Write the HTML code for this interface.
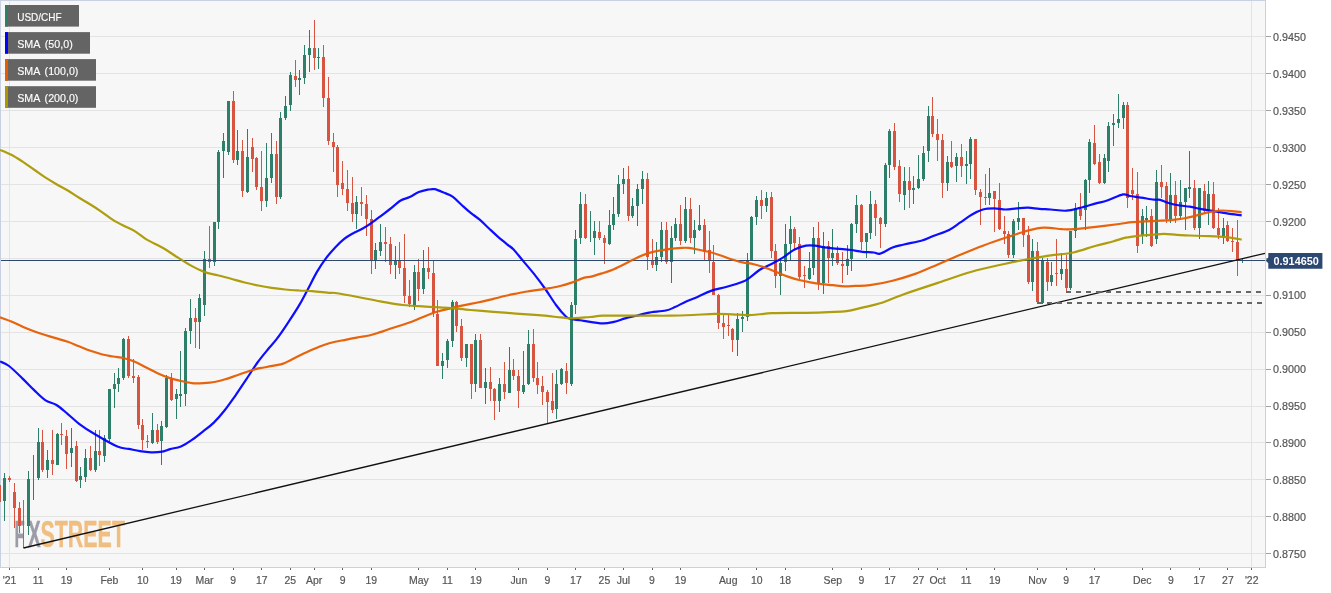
<!DOCTYPE html>
<html><head><meta charset="utf-8"><style>
html,body{margin:0;padding:0;background:#fff;width:1331px;height:593px;overflow:hidden}
svg{display:block;will-change:transform}
text{font-family:"Liberation Sans",sans-serif}
</style></head><body>
<svg width="1331" height="593" viewBox="0 0 1331 593">
<rect x="0" y="0" width="1331" height="593" fill="#ffffff"/>
<rect x="0.5" y="0.5" width="1265" height="567" fill="#f7f7f7" stroke="#c8d0e4" stroke-width="1"/>

<path d="M1 36.5H1265 M1 73.5H1265 M1 110.5H1265 M1 147.5H1265 M1 184.5H1265 M1 221.5H1265 M1 258.5H1265 M1 295.5H1265 M1 332.5H1265 M1 369.5H1265 M1 406.5H1265 M1 442.5H1265 M1 479.5H1265 M1 516.5H1265 M1 553.5H1265 M9.5 1V567 M1251.5 1V567" stroke="#e3e3e3" stroke-width="1" fill="none"/>
<g font-weight="bold" font-size="36.5" stroke-width="0.45"><text x="14.6" y="547.3" fill="#9b9ca8" stroke="#9b9ca8" textLength="10.2" lengthAdjust="spacingAndGlyphs">F</text><text x="28" y="547.3" fill="#9b9ca8" stroke="#9b9ca8" textLength="12.6" lengthAdjust="spacingAndGlyphs">X</text><text x="40.5" y="547.3" fill="#f0be80" stroke="#f0be80" textLength="84.5" lengthAdjust="spacingAndGlyphs">STREET</text></g>
<path d="M4.5 473V521 M28.5 471V535 M33.5 455V500 M38.5 428V480 M47.5 450V478 M57.5 433V465 M71.5 428V467 M80.5 467V488 M85.5 449V482 M95.5 430V472 M104.5 435V462 M109.5 389V442 M114.5 373V408 M118.5 368V392 M123.5 338V380 M152.5 413V444 M161.5 421V465 M166.5 375V428 M176.5 389V419 M180.5 351V407 M185.5 328V406 M190.5 299V344 M199.5 294V349 M204.5 251V316 M214.5 222V266 M218.5 150V229 M223.5 133V178 M228.5 101V155 M237.5 130V165 M247.5 129V193 M266.5 143V207 M271.5 133V183 M280.5 112V199 M285.5 96V120 M290.5 72V111 M299.5 70V95 M304.5 45V84 M309.5 30V72 M318.5 48V69 M356.5 196V229 M375.5 243V269 M380.5 224V256 M395.5 246V279 M414.5 265V310 M423.5 250V294 M442.5 353V379 M447.5 339V368 M452.5 300V347 M466.5 344V367 M475.5 334V392 M485.5 368V404 M499.5 378V412 M509.5 347V393 M523.5 351V394 M528.5 330V385 M556.5 370V419 M561.5 368V385 M571.5 302V386 M575.5 230V314 M580.5 192V244 M590.5 211V242 M594.5 221V255 M609.5 210V245 M613.5 197V230 M618.5 175V217 M623.5 168V194 M632.5 198V218 M637.5 184V226 M642.5 171V204 M656.5 242V271 M661.5 222V262 M671.5 226V283 M675.5 218V241 M685.5 197V243 M694.5 220V254 M699.5 205V231 M737.5 313V356 M742.5 311V332 M747.5 253V321 M751.5 216V261 M756.5 196V225 M766.5 192V212 M780.5 258V295 M785.5 224V271 M790.5 216V261 M809.5 252V280 M813.5 227V275 M823.5 232V294 M832.5 229V266 M847.5 245V275 M851.5 223V271 M856.5 195V233 M866.5 233V258 M870.5 191V239 M885.5 163V227 M889.5 129V178 M904.5 167V210 M913.5 176V204 M918.5 155V189 M923.5 146V181 M928.5 106V162 M947.5 156V191 M956.5 153V182 M966.5 151V184 M970.5 137V179 M989.5 168V205 M1013.5 219V258 M1018.5 202V230 M1032.5 239V291 M1042.5 258V304 M1051.5 262V286 M1061.5 253V280 M1070.5 231V290 M1075.5 203V238 M1085.5 179V230 M1089.5 139V193 M1104.5 154V184 M1108.5 122V172 M1113.5 114V146 M1118.5 94V128 M1123.5 102V129 M1142.5 209V244 M1146.5 206V237 M1156.5 170V244 M1170.5 173V223 M1180.5 180V220 M1185.5 188V230 M1189.5 151V198 M1199.5 188V239 M1208.5 181V225 M1223.5 218V244 M1242.5 259V263" stroke="#2e7f6a" stroke-width="1" fill="none"/>
<path d="M3 478h3v23h-3z M27 479h3v47h-3z M37 442h3v36h-3z M46 460h3v10h-3z M56 434h3v31h-3z M70 448h3v5h-3z M79 476h3v4h-3z M84 458h3v19h-3z M94 451h3v19h-3z M103 438h3v18h-3z M108 389h3v50h-3z M113 384h3v5h-3z M117 378h3v6h-3z M122 339h3v39h-3z M151 430h3v13h-3z M160 426h3v15h-3z M165 378h3v49h-3z M175 394h3v5h-3z M179 394h3v2h-3z M184 331h3v63h-3z M189 318h3v13h-3z M198 298h3v24h-3z M203 259h3v46h-3z M213 222h3v40h-3z M217 152h3v70h-3z M222 141h3v10h-3z M227 101h3v51h-3z M236 151h3v9h-3z M246 157h3v35h-3z M265 178h3v23h-3z M270 154h3v24h-3z M279 118h3v79h-3z M284 106h3v12h-3z M289 75h3v30h-3z M298 78h3v2h-3z M303 55h3v23h-3z M308 48h3v7h-3z M317 57h3v1h-3z M355 202h3v12h-3z M374 250h3v10h-3z M379 242h3v9h-3z M394 261h3v4h-3z M413 272h3v34h-3z M422 268h3v21h-3z M441 361h3v5h-3z M446 341h3v19h-3z M451 302h3v39h-3z M465 344h3v14h-3z M474 340h3v44h-3z M484 382h3v6h-3z M498 384h3v17h-3z M508 370h3v23h-3z M522 385h3v7h-3z M527 344h3v40h-3z M555 384h3v25h-3z M560 369h3v15h-3z M570 305h3v79h-3z M574 239h3v66h-3z M579 204h3v34h-3z M593 231h3v7h-3z M608 225h3v19h-3z M612 214h3v11h-3z M617 184h3v30h-3z M622 179h3v5h-3z M631 206h3v10h-3z M636 189h3v17h-3z M641 179h3v10h-3z M655 257h3v8h-3z M660 230h3v27h-3z M670 238h3v24h-3z M674 224h3v14h-3z M684 209h3v32h-3z M693 230h3v8h-3z M698 225h3v5h-3z M736 319h3v21h-3z M741 317h3v2h-3z M746 260h3v57h-3z M750 217h3v43h-3z M755 200h3v17h-3z M765 198h3v8h-3z M779 263h3v13h-3z M784 244h3v18h-3z M789 229h3v15h-3z M808 268h3v11h-3z M812 238h3v30h-3z M822 246h3v37h-3z M831 253h3v5h-3z M846 259h3v7h-3z M850 224h3v35h-3z M855 205h3v19h-3z M865 233h3v9h-3z M869 204h3v29h-3z M884 165h3v59h-3z M888 131h3v34h-3z M903 181h3v14h-3z M912 188h3v2h-3z M917 179h3v9h-3z M922 153h3v26h-3z M927 116h3v35h-3z M946 162h3v21h-3z M955 157h3v9h-3z M965 164h3v2h-3z M969 139h3v25h-3z M988 193h3v5h-3z M1012 221h3v34h-3z M1017 218h3v4h-3z M1031 251h3v31h-3z M1041 260h3v43h-3z M1050 275h3v7h-3z M1060 269h3v5h-3z M1069 231h3v57h-3z M1074 208h3v23h-3z M1084 180h3v30h-3z M1088 142h3v38h-3z M1103 158h3v25h-3z M1107 126h3v35h-3z M1112 123h3v2h-3z M1117 119h3v4h-3z M1122 105h3v13h-3z M1141 216h3v19h-3z M1145 218h3v2h-3z M1155 182h3v57h-3z M1169 195h3v24h-3z M1179 202h3v14h-3z M1184 188h3v14h-3z M1188 187h3v2h-3z M1198 188h3v40h-3z M1207 194h3v17h-3z M1222 228h3v9h-3z M1241 260h3v1h-3z" fill="#2e7f6a"/>
<path d="M-0.5 477V506 M9.5 476V482 M14.5 483V528 M19.5 502V533 M23.5 500V548 M42.5 430V472 M52.5 430V475 M61.5 423V445 M66.5 430V469 M76.5 441V482 M90.5 446V471 M99.5 430V466 M128.5 336V378 M133.5 359V383 M138.5 375V429 M142.5 419V450 M147.5 435V448 M157.5 424V444 M171.5 373V401 M195.5 308V348 M209.5 226V268 M233.5 91V163 M242.5 140V197 M252.5 138V172 M256.5 157V190 M261.5 151V211 M276.5 141V204 M295.5 60V87 M314.5 20V70 M323.5 45V107 M328.5 77V145 M333.5 133V172 M337.5 145V197 M342.5 161V195 M347.5 170V211 M352.5 177V222 M361.5 187V216 M366.5 195V236 M371.5 210V274 M385.5 227V262 M390.5 237V274 M399.5 242V274 M404.5 234V303 M409.5 280V307 M418.5 259V301 M428.5 247V279 M433.5 261V317 M437.5 300V366 M456.5 301V332 M461.5 319V361 M471.5 344V399 M480.5 334V388 M490.5 367V401 M494.5 388V420 M504.5 362V399 M513.5 359V380 M518.5 370V408 M533.5 329V382 M537.5 362V394 M542.5 376V405 M547.5 390V423 M552.5 373V413 M566.5 363V394 M585.5 194V239 M599.5 221V240 M604.5 235V264 M628.5 166V221 M647.5 173V270 M652.5 239V268 M666.5 222V264 M680.5 205V245 M690.5 198V243 M704.5 219V260 M709.5 231V273 M713.5 245V295 M718.5 294V329 M723.5 315V339 M728.5 315V336 M732.5 328V352 M761.5 190V219 M771.5 192V258 M775.5 244V288 M794.5 227V250 M799.5 237V279 M804.5 266V288 M818.5 222V290 M828.5 241V283 M837.5 246V265 M842.5 252V283 M861.5 204V250 M875.5 200V236 M880.5 217V248 M894.5 123V170 M899.5 160V202 M909.5 167V208 M932.5 97V137 M937.5 119V161 M942.5 134V198 M951.5 141V168 M961.5 144V177 M975.5 139V195 M980.5 189V225 M985.5 174V205 M994.5 191V232 M999.5 183V230 M1004.5 216V244 M1008.5 231V258 M1023.5 218V247 M1028.5 226V284 M1037.5 242V303 M1047.5 258V291 M1056.5 239V286 M1066.5 255V292 M1080.5 193V220 M1094.5 125V165 M1099.5 154V184 M1127.5 102V208 M1132.5 168V200 M1137.5 172V253 M1151.5 209V247 M1161.5 165V198 M1166.5 182V223 M1175.5 181V223 M1194.5 180V230 M1204.5 184V213 M1213.5 182V229 M1218.5 208V239 M1227.5 221V242 M1232.5 228V252 M1237.5 220V276" stroke="#d65440" stroke-width="1" fill="none"/>
<path d="M-2 485h3v17h-3z M8 478h3v2h-3z M13 492h3v16h-3z M18 508h3v18h-3z M41 442h3v28h-3z M51 460h3v4h-3z M60 434h3v1h-3z M65 436h3v18h-3z M75 446h3v35h-3z M89 458h3v12h-3z M98 451h3v4h-3z M127 339h3v37h-3z M132 376h3v2h-3z M137 377h3v48h-3z M141 425h3v15h-3z M146 441h3v1h-3z M156 430h3v12h-3z M170 379h3v21h-3z M194 318h3v4h-3z M208 259h3v3h-3z M232 101h3v59h-3z M241 151h3v40h-3z M251 147h3v12h-3z M255 158h3v29h-3z M260 187h3v14h-3z M275 154h3v43h-3z M294 76h3v4h-3z M313 48h3v10h-3z M322 57h3v41h-3z M327 98h3v43h-3z M332 142h3v5h-3z M336 147h3v38h-3z M341 183h3v6h-3z M346 189h3v14h-3z M351 203h3v11h-3z M360 202h3v2h-3z M365 204h3v15h-3z M370 219h3v41h-3z M384 242h3v2h-3z M389 244h3v21h-3z M398 261h3v7h-3z M403 268h3v28h-3z M408 296h3v8h-3z M417 272h3v17h-3z M427 268h3v4h-3z M432 273h3v40h-3z M436 314h3v52h-3z M455 302h3v24h-3z M460 326h3v32h-3z M470 344h3v40h-3z M479 340h3v48h-3z M489 382h3v7h-3z M493 389h3v12h-3z M503 384h3v8h-3z M512 370h3v6h-3z M517 376h3v15h-3z M532 344h3v34h-3z M536 378h3v7h-3z M541 386h3v6h-3z M546 392h3v10h-3z M551 401h3v9h-3z M565 371h3v12h-3z M584 204h3v34h-3z M598 232h3v6h-3z M603 238h3v5h-3z M627 179h3v37h-3z M646 179h3v78h-3z M651 260h3v5h-3z M665 230h3v32h-3z M679 224h3v17h-3z M689 209h3v29h-3z M703 225h3v27h-3z M708 250h3v11h-3z M712 262h3v33h-3z M717 295h3v28h-3z M722 323h3v4h-3z M727 325h3v1h-3z M731 329h3v11h-3z M760 200h3v6h-3z M770 197h3v54h-3z M774 251h3v25h-3z M793 229h3v14h-3z M798 244h3v33h-3z M803 275h3v1h-3z M817 238h3v45h-3z M827 246h3v12h-3z M836 253h3v10h-3z M841 264h3v2h-3z M860 205h3v37h-3z M874 204h3v14h-3z M879 218h3v6h-3z M893 131h3v36h-3z M898 166h3v28h-3z M908 181h3v9h-3z M931 116h3v18h-3z M936 134h3v6h-3z M941 140h3v43h-3z M950 162h3v5h-3z M960 157h3v9h-3z M974 139h3v51h-3z M979 192h3v5h-3z M984 197h3v1h-3z M993 191h3v8h-3z M998 200h3v29h-3z M1003 231h3v3h-3z M1007 234h3v21h-3z M1022 218h3v17h-3z M1027 235h3v47h-3z M1036 251h3v51h-3z M1046 262h3v20h-3z M1055 273h3v1h-3z M1065 269h3v19h-3z M1079 209h3v7h-3z M1093 143h3v21h-3z M1098 162h3v21h-3z M1126 105h3v93h-3z M1131 190h3v4h-3z M1136 194h3v52h-3z M1150 216h3v30h-3z M1160 182h3v5h-3z M1165 186h3v33h-3z M1174 195h3v21h-3z M1193 188h3v40h-3z M1203 191h3v20h-3z M1212 194h3v34h-3z M1217 228h3v7h-3z M1226 225h3v16h-3z M1231 241h3v1h-3z M1236 242h3v18h-3z" fill="#d65440"/>
<path d="M1 260.5H1265" stroke="#2c4770" stroke-width="1" fill="none"/>
<path d="M0.0 361.4 C1.5 362.2 5.2 363.1 9.0 366.0 C12.8 368.9 18.5 374.6 22.6 378.6 C26.8 382.6 30.1 386.3 33.9 389.9 C37.7 393.5 41.4 397.6 45.2 400.1 C49.0 402.6 52.7 402.7 56.5 405.0 C60.3 407.3 64.0 411.0 67.8 414.1 C71.6 417.2 74.6 420.4 79.1 423.8 C83.6 427.2 88.6 430.5 95.0 434.3 C101.4 438.1 111.8 444.2 117.4 446.6 C123.0 449.0 124.8 448.1 128.6 448.9 C132.3 449.6 136.2 450.5 139.9 451.1 C143.7 451.7 147.4 452.2 151.1 452.3 C154.8 452.4 159.2 452.1 162.3 451.6 C165.5 451.1 166.9 450.0 170.0 449.1 C173.1 448.2 177.2 447.9 180.9 446.4 C184.6 444.9 188.2 442.4 191.9 439.9 C195.6 437.4 199.2 434.5 202.8 431.6 C206.5 428.7 210.2 426.2 213.8 422.6 C217.5 419.1 221.1 414.9 224.7 410.3 C228.3 405.8 231.9 400.5 235.6 395.3 C239.2 390.1 242.9 384.4 246.6 378.9 C250.2 373.4 253.9 367.5 257.5 362.5 C261.1 357.5 265.2 352.7 268.4 348.8 C271.6 344.9 273.4 343.4 276.6 339.2 C279.8 335.0 284.0 328.9 287.6 323.4 C291.2 317.9 295.3 311.7 298.5 306.4 C301.7 301.1 303.6 297.2 306.7 291.4 C309.8 285.6 313.9 277.2 317.1 271.6 C320.3 266.1 323.1 262.1 326.1 258.1 C329.1 254.1 332.2 250.7 335.2 247.5 C338.2 244.3 341.2 241.3 344.2 238.9 C347.2 236.5 350.2 234.9 353.2 233.2 C356.2 231.5 359.3 230.4 362.3 228.7 C365.3 227.0 368.3 225.2 371.3 223.1 C374.3 221.0 377.4 218.6 380.4 216.3 C383.4 214.0 386.0 212.1 389.4 209.5 C392.8 206.9 397.3 202.6 400.7 200.5 C404.1 198.4 406.7 198.5 409.7 197.1 C412.7 195.7 415.8 193.3 418.8 192.1 C421.8 190.9 425.2 190.2 427.8 189.7 C430.4 189.2 432.0 188.7 434.6 189.2 C437.2 189.7 440.6 191.3 443.6 192.6 C446.6 193.8 449.6 194.6 452.6 196.7 C455.6 198.8 458.7 202.3 461.7 205.0 C464.7 207.7 467.7 210.5 470.7 212.9 C473.7 215.3 476.7 217.1 479.7 219.7 C482.7 222.3 485.8 225.5 488.8 228.3 C491.8 231.1 494.8 234.0 497.8 236.6 C500.8 239.2 504.2 241.9 506.8 244.1 C509.4 246.2 511.0 246.8 513.6 249.5 C516.2 252.2 519.3 256.3 522.7 260.4 C526.1 264.5 530.2 269.1 534.0 273.9 C537.8 278.7 541.6 283.8 545.3 289.0 C549.0 294.2 552.6 300.4 556.0 305.0 C559.4 309.6 563.2 314.0 565.6 316.3 C568.0 318.6 567.1 317.9 570.1 318.6 C573.1 319.4 578.3 320.0 583.7 320.8 C589.1 321.6 597.6 323.2 602.6 323.4 C607.6 323.6 610.1 322.6 613.9 321.8 C617.7 321.0 621.4 319.4 625.2 318.4 C629.0 317.4 632.7 316.6 636.5 315.7 C640.3 314.8 642.9 313.7 647.8 312.8 C652.7 311.9 661.3 311.4 665.8 310.5 C670.3 309.6 671.5 308.6 674.9 307.1 C678.3 305.6 682.4 303.2 686.2 301.5 C690.0 299.8 693.4 298.8 697.5 297.0 C701.6 295.2 706.1 292.6 711.0 290.9 C715.9 289.2 721.5 288.3 726.8 286.8 C732.1 285.3 738.8 283.3 742.6 281.8 C746.4 280.3 746.4 279.9 749.4 277.8 C752.4 275.7 756.9 271.5 760.7 269.2 C764.5 266.9 768.2 265.8 772.0 263.8 C775.8 261.8 779.5 259.8 783.3 257.4 C787.1 255.0 790.8 251.4 794.6 249.5 C798.4 247.6 802.5 246.3 805.9 245.7 C809.3 245.1 812.0 245.4 815.0 245.7 C818.0 246.0 819.9 246.8 824.0 247.3 C828.1 247.8 835.3 248.5 839.8 248.9 C844.3 249.3 847.3 249.5 851.1 250.0 C854.9 250.5 858.6 251.4 862.4 251.8 C866.2 252.2 870.7 252.2 873.7 252.5 C876.7 252.8 877.1 254.4 880.2 253.6 C883.4 252.8 888.7 249.0 892.6 247.5 C896.5 246.0 899.0 245.7 903.9 244.5 C908.8 243.3 917.1 241.9 922.0 240.5 C926.9 239.1 928.7 237.8 933.2 236.0 C937.7 234.2 944.6 232.2 949.1 229.9 C953.6 227.6 956.6 224.9 960.4 222.4 C964.1 219.9 967.9 216.8 971.6 214.7 C975.4 212.5 979.1 210.6 982.9 209.5 C986.7 208.4 990.4 208.4 994.2 208.4 C998.0 208.4 1001.7 209.5 1005.5 209.5 C1009.3 209.5 1013.0 208.7 1016.8 208.4 C1020.6 208.1 1024.3 207.6 1028.1 207.7 C1031.9 207.8 1035.6 208.6 1039.4 208.9 C1043.2 209.2 1046.2 209.2 1050.7 209.5 C1055.2 209.8 1061.6 211.0 1066.5 210.7 C1071.4 210.4 1075.2 209.1 1080.1 207.9 C1085.0 206.7 1091.4 204.6 1095.9 203.4 C1100.4 202.2 1102.7 202.0 1107.2 200.5 C1111.7 199.0 1119.2 195.2 1123.0 194.4 C1126.8 193.7 1126.8 195.5 1129.8 196.0 C1132.8 196.5 1137.1 197.0 1141.1 197.6 C1145.1 198.2 1150.6 199.2 1153.8 199.6 C1157.0 200.0 1158.1 199.4 1160.3 199.9 C1162.5 200.4 1163.9 201.6 1166.7 202.4 C1169.5 203.2 1173.1 204.3 1176.9 205.0 C1180.7 205.7 1185.9 206.1 1189.7 206.7 C1193.5 207.3 1196.8 208.2 1200.0 208.8 C1203.2 209.4 1206.0 209.9 1209.0 210.4 C1212.0 210.9 1214.7 211.3 1217.9 211.8 C1221.1 212.3 1224.2 213.0 1228.2 213.6 C1232.2 214.2 1239.5 215.0 1241.7 215.3" stroke="#0000ff" stroke-opacity="0.95" stroke-width="2.2" fill="none" stroke-linejoin="round" stroke-linecap="butt"/>
<path d="M0.0 317.4 C1.9 318.1 7.5 319.9 11.3 321.5 C15.1 323.1 18.8 325.1 22.6 326.7 C26.4 328.3 30.1 329.8 33.9 331.2 C37.7 332.6 41.4 333.8 45.2 335.0 C49.0 336.2 52.7 337.3 56.5 338.4 C60.3 339.5 64.0 340.5 67.8 341.8 C71.6 343.1 75.3 344.8 79.1 346.3 C82.9 347.8 86.7 349.5 90.4 350.8 C94.2 352.1 97.8 353.2 101.6 354.2 C105.3 355.1 109.1 355.8 112.9 356.5 C116.7 357.2 120.4 357.4 124.2 358.3 C128.0 359.2 131.7 360.5 135.5 362.1 C139.3 363.7 143.0 365.9 146.8 367.8 C150.6 369.7 154.3 371.7 158.1 373.4 C161.9 375.1 165.6 376.6 169.4 377.9 C173.2 379.1 176.9 380.0 180.7 380.9 C184.5 381.8 188.2 382.7 192.0 383.1 C195.8 383.5 199.5 383.3 203.3 383.1 C207.1 382.9 210.8 382.7 214.6 382.0 C218.4 381.3 222.1 380.2 225.9 379.1 C229.7 378.0 233.4 376.5 237.2 375.2 C241.0 373.9 244.7 372.4 248.5 371.2 C252.3 370.0 256.0 369.0 259.8 368.2 C263.6 367.4 267.3 366.9 271.1 366.2 C274.9 365.5 279.2 364.9 282.4 363.9 C285.5 362.9 286.9 361.9 290.0 360.4 C293.1 358.9 297.5 356.5 301.3 354.7 C305.1 352.9 308.8 351.1 312.6 349.5 C316.4 347.9 320.1 346.3 323.9 345.0 C327.7 343.7 331.4 342.7 335.2 341.8 C339.0 340.9 342.7 340.4 346.5 339.6 C350.3 338.9 354.0 338.0 357.8 337.3 C361.6 336.6 365.3 336.4 369.1 335.5 C372.9 334.6 376.6 333.3 380.4 332.1 C384.1 330.9 387.9 329.5 391.6 328.3 C395.4 327.1 399.1 325.9 402.9 324.7 C406.7 323.4 410.4 322.3 414.2 320.8 C418.0 319.3 421.7 317.4 425.5 315.9 C429.3 314.4 433.0 313.0 436.8 311.8 C440.6 310.6 444.3 309.8 448.1 308.9 C451.9 307.9 455.6 306.9 459.4 306.1 C463.2 305.3 466.9 304.6 470.7 303.9 C474.5 303.1 478.2 302.4 482.0 301.6 C485.8 300.8 489.5 299.8 493.3 298.9 C497.1 298.0 500.8 296.9 504.6 296.0 C508.4 295.1 512.1 294.4 515.9 293.7 C519.7 292.9 523.4 292.1 527.2 291.5 C531.0 290.9 534.7 290.5 538.5 289.9 C542.3 289.3 546.0 288.8 549.8 288.1 C553.6 287.4 557.3 286.8 561.1 285.8 C564.9 284.9 568.6 283.7 572.4 282.4 C576.2 281.1 580.6 278.9 583.7 277.9 C586.9 276.9 588.1 277.4 591.3 276.6 C594.4 275.8 598.8 274.4 602.6 273.2 C606.4 272.0 610.1 270.8 613.9 269.2 C617.7 267.6 621.4 265.7 625.2 263.8 C629.0 261.9 632.7 259.6 636.5 257.9 C640.3 256.2 644.0 254.6 647.8 253.4 C651.6 252.2 655.3 251.4 659.1 250.7 C662.9 249.9 666.6 249.4 670.4 248.9 C674.2 248.4 678.7 248.1 681.7 247.9 C684.7 247.7 685.8 247.6 688.4 247.9 C691.0 248.2 694.1 248.8 697.5 249.5 C700.9 250.2 705.0 250.9 708.8 251.8 C712.6 252.8 716.4 254.0 720.1 255.2 C723.9 256.4 727.5 258.0 731.3 259.2 C735.0 260.4 738.8 261.6 742.6 262.4 C746.4 263.2 750.1 263.3 753.9 264.2 C757.7 265.1 761.4 266.3 765.2 267.6 C769.0 268.9 772.7 270.6 776.5 272.1 C780.3 273.6 784.0 275.3 787.8 276.6 C791.6 277.9 795.3 279.1 799.1 280.0 C802.9 280.9 806.6 281.6 810.4 282.3 C814.2 283.0 817.9 283.6 821.7 284.1 C825.5 284.6 829.2 284.8 833.0 285.2 C836.8 285.6 840.5 286.3 844.3 286.4 C848.1 286.5 851.3 286.1 855.6 285.9 C859.9 285.7 863.8 286.1 870.0 285.2 C876.2 284.3 885.1 282.6 892.6 280.7 C900.1 278.8 907.7 276.6 915.2 273.9 C922.7 271.2 930.3 267.6 937.8 264.4 C945.3 261.2 952.9 257.8 960.4 254.7 C967.9 251.6 975.4 248.5 982.9 245.7 C990.4 242.9 998.0 240.3 1005.5 237.8 C1013.0 235.3 1021.7 232.2 1028.1 230.5 C1034.5 228.8 1038.2 227.8 1043.9 227.6 C1049.6 227.4 1057.1 228.9 1062.0 229.2 C1066.9 229.5 1067.6 229.6 1073.3 229.2 C1079.0 228.8 1088.2 227.8 1095.9 226.9 C1103.6 226.0 1113.2 224.8 1119.2 224.0 C1125.2 223.2 1127.8 222.5 1132.1 222.1 C1136.4 221.7 1140.6 221.5 1144.9 221.3 C1149.2 221.1 1153.4 221.0 1157.7 220.8 C1162.0 220.6 1166.2 220.5 1170.5 220.1 C1174.8 219.7 1179.0 219.2 1183.3 218.5 C1187.6 217.8 1191.9 216.7 1196.2 215.6 C1200.5 214.5 1204.7 212.9 1209.0 212.1 C1213.3 211.2 1217.5 210.6 1221.8 210.5 C1226.1 210.4 1231.3 211.1 1234.6 211.4 C1237.9 211.7 1240.5 212.0 1241.7 212.1" stroke="#e65c00" stroke-opacity="0.95" stroke-width="2.2" fill="none" stroke-linejoin="round" stroke-linecap="butt"/>
<path d="M0.0 149.9 C1.9 150.7 7.5 152.9 11.3 154.8 C15.1 156.8 18.8 159.2 22.6 161.6 C26.4 164.0 30.1 166.9 33.9 169.5 C37.7 172.1 41.4 175.0 45.2 177.4 C49.0 179.8 52.7 182.0 56.5 184.2 C60.3 186.4 64.0 188.2 67.8 190.5 C71.6 192.8 75.3 195.5 79.1 197.8 C82.9 200.1 86.7 202.2 90.4 204.5 C94.2 206.8 97.8 209.2 101.6 211.8 C105.3 214.4 109.1 217.5 112.9 219.9 C116.7 222.3 120.4 224.1 124.2 226.0 C128.0 227.9 131.7 229.3 135.5 231.6 C139.3 233.9 142.1 236.8 146.8 239.6 C151.5 242.4 158.5 245.4 163.5 248.3 C168.5 251.2 172.5 254.2 177.0 257.0 C181.5 259.9 186.1 262.9 190.6 265.4 C195.1 267.9 199.6 270.2 204.1 271.9 C208.6 273.5 213.1 274.2 217.6 275.3 C222.1 276.4 226.6 277.5 231.1 278.7 C235.6 279.9 240.2 281.4 244.7 282.5 C249.2 283.6 253.7 284.6 258.2 285.5 C262.7 286.4 267.2 287.2 271.7 287.9 C276.2 288.6 280.7 289.1 285.2 289.5 C289.7 289.9 294.3 290.2 298.8 290.5 C303.3 290.8 307.1 290.7 312.3 291.1 C317.5 291.5 326.2 292.6 330.0 292.9 C333.8 293.2 330.6 292.3 335.2 293.0 C339.8 293.7 350.3 295.6 357.8 297.0 C365.3 298.4 372.9 300.0 380.4 301.3 C387.9 302.6 395.4 304.1 402.9 305.0 C410.4 305.9 418.0 306.1 425.5 306.6 C433.0 307.1 440.6 307.3 448.1 307.9 C455.6 308.5 463.2 309.4 470.7 310.0 C478.2 310.6 485.8 311.2 493.3 311.8 C500.8 312.4 508.4 313.0 515.9 313.6 C523.4 314.2 531.0 314.6 538.5 315.2 C546.0 315.8 555.8 316.9 561.1 317.4 C566.4 317.9 565.3 318.5 570.1 318.4 C574.9 318.3 584.6 317.4 590.0 317.0 C595.4 316.6 596.7 315.9 602.6 315.7 C608.5 315.5 617.7 315.7 625.2 315.7 C632.7 315.7 640.3 315.7 647.8 315.7 C655.3 315.7 662.9 315.8 670.4 315.7 C677.9 315.6 685.4 315.3 692.9 315.0 C700.4 314.7 708.0 314.0 715.5 313.9 C723.0 313.8 732.1 314.4 738.1 314.6 C744.1 314.8 746.1 315.2 751.7 315.0 C757.4 314.8 763.0 313.6 772.0 313.2 C781.0 312.8 796.5 313.0 805.9 312.8 C815.3 312.6 821.7 312.4 828.5 312.1 C835.3 311.8 841.0 311.9 846.6 311.2 C852.2 310.4 856.8 308.9 862.4 307.6 C868.0 306.3 873.1 305.5 880.0 303.3 C886.9 301.1 894.3 297.6 903.9 294.2 C913.5 290.8 926.5 286.6 937.8 282.9 C949.1 279.1 960.3 274.9 971.6 271.7 C982.9 268.5 996.1 265.8 1005.5 263.7 C1014.9 261.6 1020.6 260.6 1028.1 259.2 C1035.6 257.8 1043.2 256.5 1050.7 255.4 C1058.2 254.3 1065.8 254.1 1073.3 252.5 C1080.8 250.9 1089.3 247.5 1095.9 245.7 C1102.5 243.9 1107.8 242.8 1112.8 241.5 C1117.8 240.2 1121.3 238.6 1125.6 237.7 C1129.9 236.8 1134.2 236.3 1138.5 235.8 C1142.8 235.3 1147.0 235.2 1151.3 234.9 C1155.6 234.6 1159.8 233.8 1164.1 233.8 C1168.4 233.8 1172.6 234.6 1176.9 234.9 C1181.2 235.2 1185.4 235.3 1189.7 235.5 C1194.0 235.7 1198.3 235.8 1202.6 236.0 C1206.9 236.2 1211.1 236.2 1215.4 236.4 C1219.7 236.6 1223.8 236.8 1228.2 237.3 C1232.6 237.8 1239.5 239.2 1241.7 239.6" stroke="#aa9800" stroke-opacity="0.95" stroke-width="2.2" fill="none" stroke-linejoin="round" stroke-linecap="butt"/>
<path d="M23.5 548 L1265 253.3" stroke="#111" stroke-width="1.3" fill="none"/>
<path d="M1066 292H1266 M1037 303H1266" stroke="#666666" stroke-width="2" stroke-dasharray="5 5" fill="none"/>
<rect x="5" y="5.0" width="74" height="21.6" fill="#646464"/>
<rect x="5" y="5.0" width="3" height="21.6" fill="#2e7f6a"/>
<text x="17.2" y="21.0" font-size="11" fill="#ffffff" stroke="#ffffff" stroke-width="0.15" word-spacing="2" textLength="44.4" lengthAdjust="spacingAndGlyphs">USD/CHF</text>
<rect x="5" y="32.1" width="85" height="21.6" fill="#646464"/>
<rect x="5" y="32.1" width="3" height="21.6" fill="#0000ff"/>
<text x="17.2" y="48.1" font-size="11" fill="#ffffff" stroke="#ffffff" stroke-width="0.15" word-spacing="2" textLength="55.6" lengthAdjust="spacingAndGlyphs">SMA (50,0)</text>
<rect x="5" y="59.1" width="91" height="21.6" fill="#646464"/>
<rect x="5" y="59.1" width="3" height="21.6" fill="#e65c00"/>
<text x="17.2" y="75.1" font-size="11" fill="#ffffff" stroke="#ffffff" stroke-width="0.15" word-spacing="2" textLength="61.2" lengthAdjust="spacingAndGlyphs">SMA (100,0)</text>
<rect x="5" y="86.2" width="91" height="21.6" fill="#646464"/>
<rect x="5" y="86.2" width="3" height="21.6" fill="#aa9800"/>
<text x="17.2" y="102.2" font-size="11" fill="#ffffff" stroke="#ffffff" stroke-width="0.15" word-spacing="2" textLength="61.2" lengthAdjust="spacingAndGlyphs">SMA (200,0)</text>
<path d="M1266 36.5H1271 M1266 73.5H1271 M1266 110.5H1271 M1266 147.5H1271 M1266 184.5H1271 M1266 221.5H1271 M1266 258.5H1271 M1266 295.5H1271 M1266 332.5H1271 M1266 369.5H1271 M1266 406.5H1271 M1266 442.5H1271 M1266 479.5H1271 M1266 516.5H1271 M1266 553.5H1271" stroke="#a0a0a0" stroke-width="1"/>
<g font-size="11" fill="#555555" stroke="#555555" stroke-width="0.2"><text x="1273" y="41" textLength="32.9" lengthAdjust="spacingAndGlyphs">0.9450</text><text x="1273" y="78" textLength="32.9" lengthAdjust="spacingAndGlyphs">0.9400</text><text x="1273" y="115" textLength="32.9" lengthAdjust="spacingAndGlyphs">0.9350</text><text x="1273" y="152" textLength="32.9" lengthAdjust="spacingAndGlyphs">0.9300</text><text x="1273" y="189" textLength="32.9" lengthAdjust="spacingAndGlyphs">0.9250</text><text x="1273" y="226" textLength="32.9" lengthAdjust="spacingAndGlyphs">0.9200</text><text x="1273" y="299" textLength="32.9" lengthAdjust="spacingAndGlyphs">0.9100</text><text x="1273" y="336" textLength="32.9" lengthAdjust="spacingAndGlyphs">0.9050</text><text x="1273" y="373" textLength="32.9" lengthAdjust="spacingAndGlyphs">0.9000</text><text x="1273" y="410" textLength="32.9" lengthAdjust="spacingAndGlyphs">0.8950</text><text x="1273" y="447" textLength="32.9" lengthAdjust="spacingAndGlyphs">0.8900</text><text x="1273" y="484" textLength="32.9" lengthAdjust="spacingAndGlyphs">0.8850</text><text x="1273" y="521" textLength="32.9" lengthAdjust="spacingAndGlyphs">0.8800</text><text x="1273" y="558" textLength="32.9" lengthAdjust="spacingAndGlyphs">0.8750</text></g>
<path d="M1265.6 260.4 L1268.3 257.6 V253 H1322.4 V268.8 H1268.3 V263.2 Z" fill="#2c4770"/>
<text x="1273.5" y="264.6" font-size="11" font-weight="bold" fill="#ffffff" textLength="45.3" lengthAdjust="spacingAndGlyphs">0.914650</text>
<path d="M9.5 568V570 M38.5 568V570 M66.5 568V570 M109.5 568V570 M142.5 568V570 M176.5 568V570 M204.5 568V570 M233.5 568V570 M261.5 568V570 M290.5 568V570 M314.5 568V570 M342.5 568V570 M371.5 568V570 M418.5 568V570 M447.5 568V570 M475.5 568V570 M518.5 568V570 M547.5 568V570 M575.5 568V570 M604.5 568V570 M623.5 568V570 M652.5 568V570 M680.5 568V570 M728.5 568V570 M756.5 568V570 M785.5 568V570 M832.5 568V570 M861.5 568V570 M889.5 568V570 M918.5 568V570 M937.5 568V570 M966.5 568V570 M994.5 568V570 M1037.5 568V570 M1066.5 568V570 M1094.5 568V570 M1142.5 568V570 M1170.5 568V570 M1199.5 568V570 M1227.5 568V570 M1251.5 568V570" stroke="#666" stroke-width="1"/>
<g font-size="11" fill="#555555" stroke="#555555" stroke-width="0.2" text-anchor="middle"><text x="9.5" y="583.8" textLength="13.62" lengthAdjust="spacingAndGlyphs">&#39;21</text><text x="38.1" y="583.8" textLength="10.85" lengthAdjust="spacingAndGlyphs">11</text><text x="66.6" y="583.8" textLength="11.62" lengthAdjust="spacingAndGlyphs">19</text><text x="109.4" y="583.8" textLength="18.01" lengthAdjust="spacingAndGlyphs">Feb</text><text x="142.8" y="583.8" textLength="11.62" lengthAdjust="spacingAndGlyphs">10</text><text x="176.1" y="583.8" textLength="11.62" lengthAdjust="spacingAndGlyphs">19</text><text x="204.6" y="583.8" textLength="18.00" lengthAdjust="spacingAndGlyphs">Mar</text><text x="233.2" y="583.8" textLength="5.81" lengthAdjust="spacingAndGlyphs">9</text><text x="261.7" y="583.8" textLength="11.62" lengthAdjust="spacingAndGlyphs">17</text><text x="290.3" y="583.8" textLength="11.62" lengthAdjust="spacingAndGlyphs">25</text><text x="314.1" y="583.8" textLength="16.26" lengthAdjust="spacingAndGlyphs">Apr</text><text x="342.7" y="583.8" textLength="5.81" lengthAdjust="spacingAndGlyphs">9</text><text x="371.2" y="583.8" textLength="11.62" lengthAdjust="spacingAndGlyphs">19</text><text x="418.8" y="583.8" textLength="19.74" lengthAdjust="spacingAndGlyphs">May</text><text x="447.4" y="583.8" textLength="10.85" lengthAdjust="spacingAndGlyphs">11</text><text x="475.9" y="583.8" textLength="11.62" lengthAdjust="spacingAndGlyphs">19</text><text x="518.8" y="583.8" textLength="16.85" lengthAdjust="spacingAndGlyphs">Jun</text><text x="547.3" y="583.8" textLength="5.81" lengthAdjust="spacingAndGlyphs">9</text><text x="575.9" y="583.8" textLength="11.62" lengthAdjust="spacingAndGlyphs">17</text><text x="604.4" y="583.8" textLength="11.62" lengthAdjust="spacingAndGlyphs">25</text><text x="623.5" y="583.8" textLength="13.36" lengthAdjust="spacingAndGlyphs">Jul</text><text x="652.0" y="583.8" textLength="5.81" lengthAdjust="spacingAndGlyphs">9</text><text x="680.6" y="583.8" textLength="11.62" lengthAdjust="spacingAndGlyphs">19</text><text x="728.2" y="583.8" textLength="18.59" lengthAdjust="spacingAndGlyphs">Aug</text><text x="756.7" y="583.8" textLength="11.62" lengthAdjust="spacingAndGlyphs">10</text><text x="785.3" y="583.8" textLength="11.62" lengthAdjust="spacingAndGlyphs">18</text><text x="832.9" y="583.8" textLength="18.59" lengthAdjust="spacingAndGlyphs">Sep</text><text x="861.4" y="583.8" textLength="5.81" lengthAdjust="spacingAndGlyphs">9</text><text x="890.0" y="583.8" textLength="11.62" lengthAdjust="spacingAndGlyphs">17</text><text x="918.5" y="583.8" textLength="11.62" lengthAdjust="spacingAndGlyphs">27</text><text x="937.6" y="583.8" textLength="16.26" lengthAdjust="spacingAndGlyphs">Oct</text><text x="966.1" y="583.8" textLength="10.85" lengthAdjust="spacingAndGlyphs">11</text><text x="994.7" y="583.8" textLength="11.62" lengthAdjust="spacingAndGlyphs">19</text><text x="1037.5" y="583.8" textLength="18.58" lengthAdjust="spacingAndGlyphs">Nov</text><text x="1066.1" y="583.8" textLength="5.81" lengthAdjust="spacingAndGlyphs">9</text><text x="1094.6" y="583.8" textLength="11.62" lengthAdjust="spacingAndGlyphs">17</text><text x="1142.2" y="583.8" textLength="18.58" lengthAdjust="spacingAndGlyphs">Dec</text><text x="1170.8" y="583.8" textLength="5.81" lengthAdjust="spacingAndGlyphs">9</text><text x="1199.4" y="583.8" textLength="11.62" lengthAdjust="spacingAndGlyphs">17</text><text x="1227.9" y="583.8" textLength="11.62" lengthAdjust="spacingAndGlyphs">27</text><text x="1251.7" y="583.8" textLength="13.62" lengthAdjust="spacingAndGlyphs">&#39;22</text></g>
</svg></body></html>
